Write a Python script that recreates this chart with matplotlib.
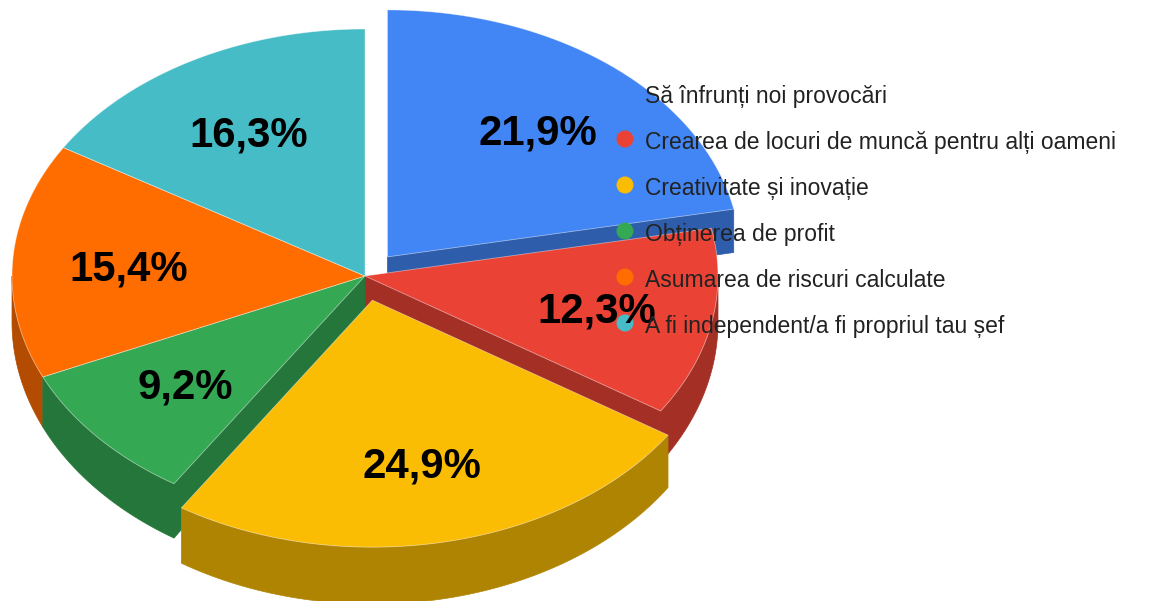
import matplotlib.pyplot as plt
import numpy as np
from matplotlib.patches import Polygon, Circle
from matplotlib import font_manager

labels = ["Să înfrunți noi provocări",
          "Crearea de locuri de muncă pentru alți oameni",
          "Creativitate și inovație",
          "Obținerea de profit",
          "Asumarea de riscuri calculate",
          "A fi independent/a fi propriul tau șef"]
shares = [21.9, 12.3, 24.9, 9.2, 15.4, 16.3]
pulled = [0.1, 0.0, 0.1, 0.0, 0.0, 0.0]
colors = ["#4285F4", "#EA4335", "#FBBC04", "#34A853", "#FF6D01", "#46BDC6"]

# pie geometry, in pixels (y grows downward)
cx, cy = 365, 276
rx, ry = 353, 247


def depth(y):
    # the slab gets slightly thicker towards the viewer
    return 35 + 0.04 * y


def rim(theta, ox, oy, r=1.0):
    t = np.radians(theta)
    return cx + ox + rx * r * np.sin(t), cy + oy - ry * r * np.cos(t)


def shade(c, f=0.7):
    c = np.array(plt.matplotlib.colors.to_rgb(c))
    return tuple(c * f)


def drop(pts):
    return [(x, y + depth(y)) for x, y in pts]


fig = plt.figure(figsize=(11.71, 6.01), dpi=100)
ax = fig.add_axes([0, 0, 1, 1])
ax.set_xlim(0, 1171)
ax.set_ylim(601, 0)
ax.axis("off")

total = sum(shares)
bounds = np.cumsum([0] + shares) / total * 360
slices = []
for i, v in enumerate(shares):
    a0, a1 = bounds[i], bounds[i + 1]
    mid = (a0 + a1) / 2
    ox = rx * pulled[i] * np.sin(np.radians(mid))
    oy = -ry * pulled[i] * np.cos(np.radians(mid))
    slices.append(dict(i=i, a0=a0, a1=a1, mid=mid, ox=ox, oy=oy))

n = len(shares)

# side walls, back slices first
for s in sorted(slices, key=lambda s: -np.cos(np.radians(s["mid"]))):
    i, a0, a1, ox, oy = s["i"], s["a0"], s["a1"], s["ox"], s["oy"]
    side = shade(colors[i])
    apex = (cx + ox, cy + oy)
    faces = []
    # start face, only if it can be seen and is not hidden inside a neighbour
    if np.sin(np.radians(a0)) < 0 and (pulled[i] or pulled[i - 1]):
        faces.append([apex, rim(a0, ox, oy)])
    if np.sin(np.radians(a1)) > 0 and (pulled[i] or pulled[(i + 1) % n]):
        faces.append([apex, rim(a1, ox, oy)])
    for f in faces:
        poly = f + drop(f)[::-1]
        ax.add_patch(Polygon(poly, closed=True, facecolor=side,
                             edgecolor=side, lw=0.5))
    lo, hi = max(a0, 90), min(a1, 270)
    if hi > lo:
        th = np.linspace(lo, hi, 80)
        top = [rim(t, ox, oy) for t in th]
        poly = top + drop(top)[::-1]
        ax.add_patch(Polygon(poly, closed=True, facecolor=side,
                             edgecolor=side, lw=0.5))

# top faces
for s in slices:
    i = s["i"]
    th = np.linspace(s["a0"], s["a1"], 120)
    pts = [(cx + s["ox"], cy + s["oy"])] + [rim(t, s["ox"], s["oy"]) for t in th]
    ax.add_patch(Polygon(pts, closed=True, facecolor=colors[i],
                         edgecolor=(1, 1, 1, 0.45), lw=0.6))

# value labels
lab_px = 42
for s in slices:
    x, y = rim(s["mid"], s["ox"], s["oy"], r=0.67)
    txt = f"{shares[s['i']]:.1f}%".replace(".", ",")
    ax.text(x, y + 0.716 * lab_px / 2, txt, ha="center", va="baseline",
            fontsize=lab_px * 0.72, fontweight="bold",
            family="Liberation Sans", color="black")

# legend
names = {f.name for f in font_manager.fontManager.ttflist}
if "Liberation Sans Narrow" in names:
    leg_font, leg_size = "Liberation Sans Narrow", 20
else:
    leg_font, leg_size = "Liberation Sans", 16.5

for k, name in enumerate(labels):
    yc = 93 + 46 * k
    ax.add_patch(Circle((625, yc), 8.5, facecolor=colors[k], edgecolor="none"))
    ax.text(645, yc + 10, name, ha="left", va="baseline", fontsize=leg_size,
            family=leg_font, color="#222222")

fig.savefig("out.png", dpi=100)
